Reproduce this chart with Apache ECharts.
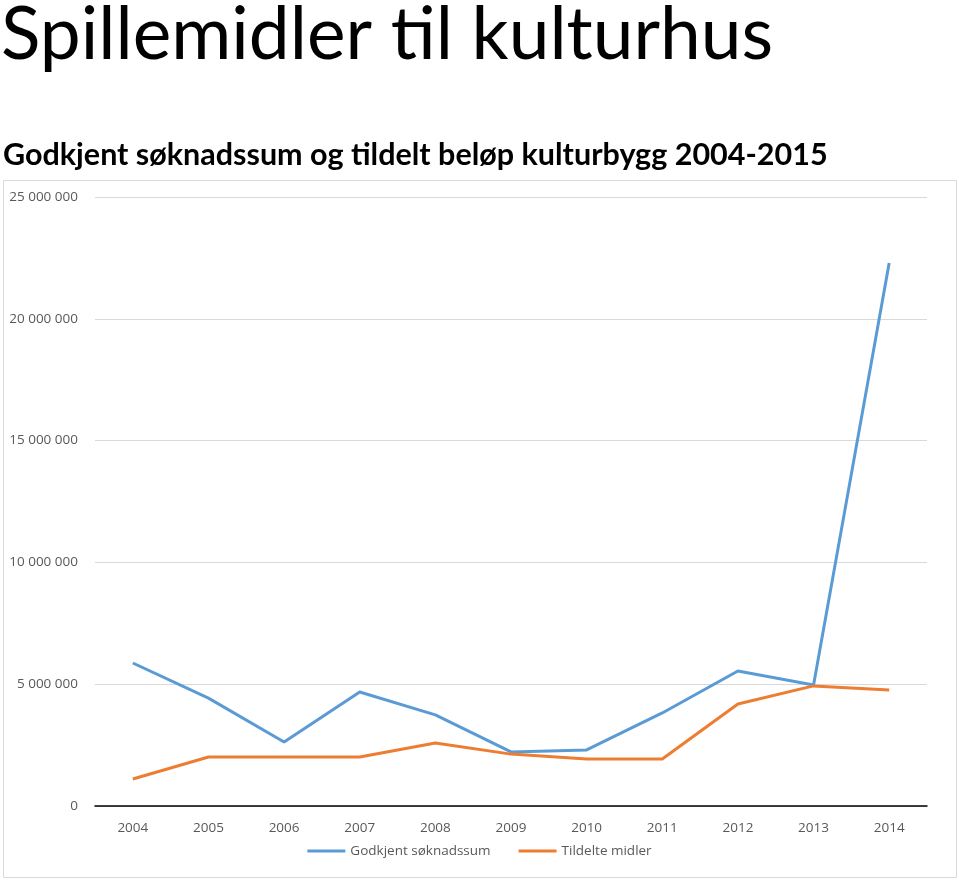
<!DOCTYPE html>
<html>
<head>
<meta charset="utf-8">
<script src="https://cdn.jsdelivr.net/npm/echarts@6/dist/echarts.min.js"></script>
<style>html,body{margin:0;padding:0;background:#fff}#c{width:959px;height:881px}</style>
</head>
<body>
<div id="c"></div>
<script>
const years = ['2004','2005','2006','2007','2008','2009','2010','2011','2012','2013','2014'];
const godkjent = [5870000, 4430000, 2630000, 4680000, 3740000, 2220000, 2300000, 3820000, 5540000, 4970000, 22290000];
const tildelt = [1110000, 2010000, 2010000, 2010000, 2590000, 2130000, 1930000, 1930000, 4190000, 4930000, 4760000];
const seriesNames = ['Godkjent søknadssum', 'Tildelte midler'];
const yTicks = [0, 5000000, 10000000, 15000000, 20000000, 25000000];

const fmt = v => v === 0 ? '0' : String(v).replace(/\B(?=(\d{3})+(?!\d))/g, ' ');
const chart = echarts.init(document.getElementById('c'));
chart.setOption({
  animation: false,
  title: [
    {text: 'Spillemidler til kulturhus', left: -4, top: -6,
     textStyle: {fontFamily: 'Lato', fontSize: 73, fontWeight: 'normal', color: '#000'}},
    {text: 'Godkjent søknadssum og tildelt beløp kulturbygg 2004-2015', left: -2, top: 135,
     textStyle: {fontFamily: 'Lato', fontSize: 30.5, fontWeight: 'bold', color: '#000'}}
  ],
  graphic: [{type: 'rect', shape: {x: 3.5, y: 180.5, width: 953, height: 697},
    style: {fill: 'none', stroke: '#d9d9d9', lineWidth: 1}}],
  grid: {left: 95, right: 32, top: 197, bottom: 75},
  legend: {
    data: seriesNames, bottom: 18, left: 'center', itemWidth: 38, itemHeight: 3, itemGap: 28,
    icon: 'rect',
    textStyle: {fontFamily: 'Open Sans', fontSize: 13.5, color: '#595959'}
  },
  xAxis: {
    type: 'category', data: years, boundaryGap: true,
    axisLine: {lineStyle: {color: '#000', width: 1.5}},
    axisTick: {show: false},
    axisLabel: {fontFamily: 'Open Sans', fontSize: 13.5, color: '#595959', margin: 15}
  },
  yAxis: {
    type: 'value', min: 0, max: 25000000, interval: 5000000,
    axisLine: {show: false}, axisTick: {show: false},
    splitLine: {lineStyle: {color: '#d9d9d9', width: 1}},
    axisLabel: {fontFamily: 'Open Sans', fontSize: 13.5, color: '#595959', margin: 17,
      formatter: v => yTicks.includes(v) ? fmt(v) : ''}
  },
  series: [
    {name: seriesNames[0], type: 'line', data: godkjent, symbol: 'none',
     lineStyle: {color: '#5B9BD5', width: 3}, itemStyle: {color: '#5B9BD5'}},
    {name: seriesNames[1], type: 'line', data: tildelt, symbol: 'none',
     lineStyle: {color: '#ED7D31', width: 3}, itemStyle: {color: '#ED7D31'}}
  ]
});
</script>
</body>
</html>
